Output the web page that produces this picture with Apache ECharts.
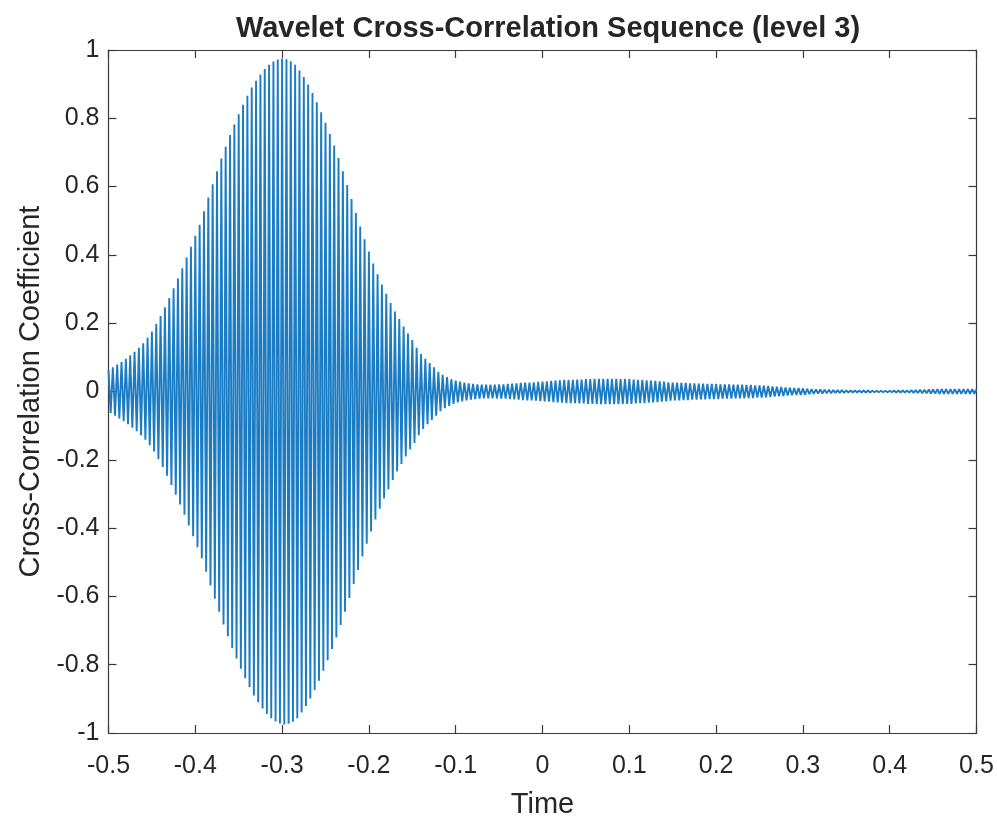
<!DOCTYPE html>
<html>
<head>
<meta charset="utf-8">
<script src="https://cdn.jsdelivr.net/npm/echarts@6/dist/echarts.min.js"></script>
<style>
  html, body { margin: 0; padding: 0; background: #fff; }
  #chart { width: 997px; height: 817px; }
</style>
</head>
<body>
<div id="chart"></div>
<script>
// envelope amplitude of each oscillation cycle
// one value per cycle, cycles start at -0.5 and are 0.005 long
var tStart = -0.5;
var cycleLen = 0.005;
var cycleAmp = [
  0.063, 0.071, 0.079, 0.087, 0.096, 0.106, 0.116, 0.128, 0.141, 0.157,
  0.176, 0.198, 0.221, 0.247, 0.274, 0.302, 0.331, 0.361, 0.392, 0.424,
  0.456, 0.488, 0.528, 0.568, 0.607, 0.645, 0.682, 0.717, 0.751, 0.782,
  0.812, 0.840, 0.866, 0.890, 0.910, 0.928, 0.944, 0.957, 0.966, 0.972,
  0.975, 0.973, 0.967, 0.957, 0.940, 0.921, 0.899, 0.874, 0.847, 0.818,
  0.787, 0.754, 0.720, 0.684, 0.645, 0.605, 0.564, 0.523, 0.483, 0.446,
  0.410, 0.375, 0.343, 0.313, 0.286, 0.259, 0.234, 0.212, 0.190, 0.170,
  0.151, 0.128, 0.110, 0.096, 0.083, 0.071, 0.058, 0.049, 0.042, 0.036,
  0.032, 0.029, 0.026, 0.024, 0.022, 0.021, 0.020, 0.020, 0.020, 0.020,
  0.021, 0.021, 0.022, 0.023, 0.024, 0.025, 0.026, 0.026, 0.027, 0.028,
  0.029, 0.030, 0.031, 0.032, 0.033, 0.034, 0.034, 0.034, 0.035, 0.035,
  0.036, 0.036, 0.037, 0.037, 0.037, 0.037, 0.037, 0.037, 0.036, 0.036,
  0.036, 0.035, 0.034, 0.034, 0.033, 0.032, 0.031, 0.030, 0.029, 0.027,
  0.026, 0.026, 0.025, 0.025, 0.024, 0.024, 0.023, 0.023, 0.022, 0.022,
  0.022, 0.021, 0.021, 0.021, 0.020, 0.020, 0.020, 0.019, 0.019, 0.018,
  0.018, 0.017, 0.016, 0.015, 0.014, 0.013, 0.012, 0.011, 0.010, 0.010,
  0.009, 0.008, 0.007, 0.006, 0.006, 0.005, 0.005, 0.004, 0.004, 0.004,
  0.003, 0.003, 0.003, 0.003, 0.003, 0.003, 0.002, 0.002, 0.002, 0.002,
  0.002, 0.003, 0.003, 0.003, 0.003, 0.004, 0.004, 0.005, 0.005, 0.006,
  0.006, 0.007, 0.007, 0.007, 0.007, 0.007, 0.007, 0.007, 0.007, 0.007,
  0.007
];
var xTicks = [-0.5, 0.5, 0.1];   // min, max, step
var yTicks = [-1, 1, 0.2];

// each cycle: a positive peak then a negative one half a cycle later
var points = [];
cycleAmp.forEach(function (a, i) {
    var t = tStart + i * cycleLen;
    points.push([+t.toFixed(4), a]);
    if (i < cycleAmp.length - 1) {
        points.push([+(t + cycleLen / 2).toFixed(4), -a]);
    }
});

var txt = '#262626';
var font = '"Liberation Sans", Arial, Helvetica, sans-serif';
var axisLine = { show: true, onZero: false, lineStyle: { color: '#3a3a3a', width: 1.2 } };
var tick = { show: true, inside: true, length: 8, lineStyle: { color: '#3a3a3a', width: 1.2 } };

var myChart = echarts.init(document.getElementById('chart'));
var option = {
    animation: false,
    backgroundColor: '#fff',
    title: {
        text: 'Wavelet Cross-Correlation Sequence (level 3)',
        left: 543,
        top: 9,
        textAlign: 'center',
        textStyle: { color: txt, fontFamily: font, fontSize: 29, fontWeight: 'bold' }
    },
    grid: { left: 108.5, right: 20.5, top: 50, bottom: 84, outerBoundsMode: 'none', containLabel: false },
    xAxis: [
        {
            type: 'value',
            min: xTicks[0], max: xTicks[1], interval: xTicks[2],
            name: 'Time',
            nameLocation: 'middle',
            nameGap: 57,
            nameTextStyle: { color: txt, fontFamily: font, fontSize: 29 },
            axisLine: axisLine,
            axisTick: tick,
            splitLine: { show: false },
            axisLabel: { color: txt, fontFamily: font, fontSize: 25, margin: 21 }
        },
        {
            type: 'value', position: 'top',
            min: xTicks[0], max: xTicks[1], interval: xTicks[2],
            axisLine: axisLine, axisTick: tick,
            axisLabel: { show: false }, splitLine: { show: false }
        }
    ],
    yAxis: [
        {
            type: 'value',
            min: yTicks[0], max: yTicks[1], interval: yTicks[2],
            name: 'Cross-Correlation Coefficient',
            nameLocation: 'middle',
            nameGap: 62,
            nameTextStyle: { color: txt, fontFamily: font, fontSize: 29 },
            axisLine: axisLine,
            axisTick: tick,
            splitLine: { show: false },
            axisLabel: { color: txt, fontFamily: font, fontSize: 25, margin: 9 }
        },
        {
            type: 'value', position: 'right',
            min: yTicks[0], max: yTicks[1], interval: yTicks[2],
            axisLine: axisLine, axisTick: tick,
            axisLabel: { show: false }, splitLine: { show: false }
        }
    ],
    series: [
        {
            type: 'line',
            data: points,
            showSymbol: false,
            symbol: 'none',
            sampling: null,
            clip: true,
            lineStyle: { color: '#1b7cc4', width: 1.9 }
        }
    ]
};
myChart.setOption(option);
</script>
</body>
</html>
